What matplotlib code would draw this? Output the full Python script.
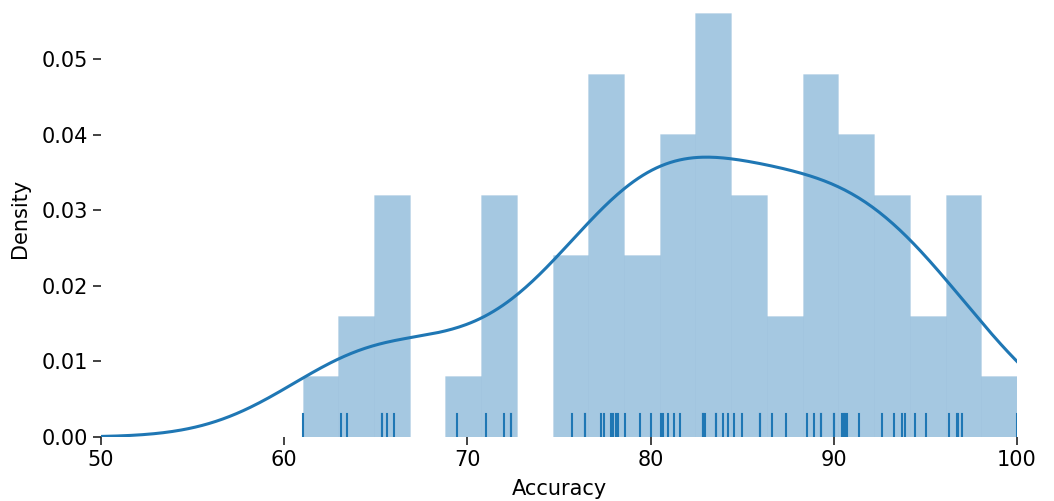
import matplotlib.pyplot as plt
import matplotlib.transforms as mtransforms
import numpy as np

# Accuracy values
accuracy = np.array([
    61.0,
    63.08, 63.41,
    65.32, 65.32, 65.60, 66.0,
    69.42,
    71.0, 72.0, 72.38, 72.38,
    75.73, 76.42, 76.42,
    77.29, 77.44, 77.82, 77.96, 78.11, 78.2,
    78.6, 79.42, 80.0,
    80.55, 80.7, 80.97, 81.3, 81.6,
    82.84, 82.84, 82.97, 83.57, 83.57, 83.97, 84.24,
    84.57, 84.97, 85.97, 85.97,
    86.61, 87.37,
    88.55, 88.92, 89.28, 89.28, 90.01, 90.01,
    90.43, 90.57, 90.62, 90.70, 91.39,
    92.61, 93.30, 93.71, 93.90,
    94.43, 95.02,
    96.30, 96.70, 96.79, 97.01,
    100.0,
])
n_bins = 20
x_ticks = [50, 60, 70, 80, 90, 100]
y_ticks = [0.00, 0.01, 0.02, 0.03, 0.04, 0.05]

blue = '#1f77b4'

fig = plt.figure(figsize=(10.54, 5.01), dpi=100)
ax = fig.add_axes([101 / 1054, 64 / 501, 916 / 1054, 437 / 501])

# histogram
ax.hist(accuracy, bins=n_bins, density=True, color=blue, alpha=0.4,
        edgecolor='#9fc2dc', linewidth=0.4)

# gaussian kde (scott bandwidth)
grid = np.linspace(50, 100, 400)
bw = accuracy.std(ddof=1) * len(accuracy) ** (-1 / 5)
dens = np.exp(-0.5 * ((grid[:, None] - accuracy[None, :]) / bw) ** 2).sum(axis=1)
dens /= len(accuracy) * bw * np.sqrt(2 * np.pi)
ax.plot(grid, dens, color=blue, linewidth=2.2)

# rug
trans = mtransforms.blended_transform_factory(ax.transData, ax.transAxes)
for v in accuracy:
    ax.plot([v, v], [0, 0.053], color=blue, linewidth=1.5, transform=trans)

ax.set_xlim(50, 100)
ax.set_ylim(0, 437 / 7560)
ax.set_xticks(x_ticks)
ax.set_yticks(y_ticks)
ax.set_yticklabels([f'{t:.2f}' for t in y_ticks])
ax.tick_params(labelsize=15, length=6, width=1.2, color='#222222')
ax.set_xlabel('Accuracy', fontsize=15, labelpad=6)
ax.set_ylabel('Density', fontsize=15, labelpad=8)
for s in ax.spines.values():
    s.set_visible(False)

fig.savefig('out.png', dpi=100)
